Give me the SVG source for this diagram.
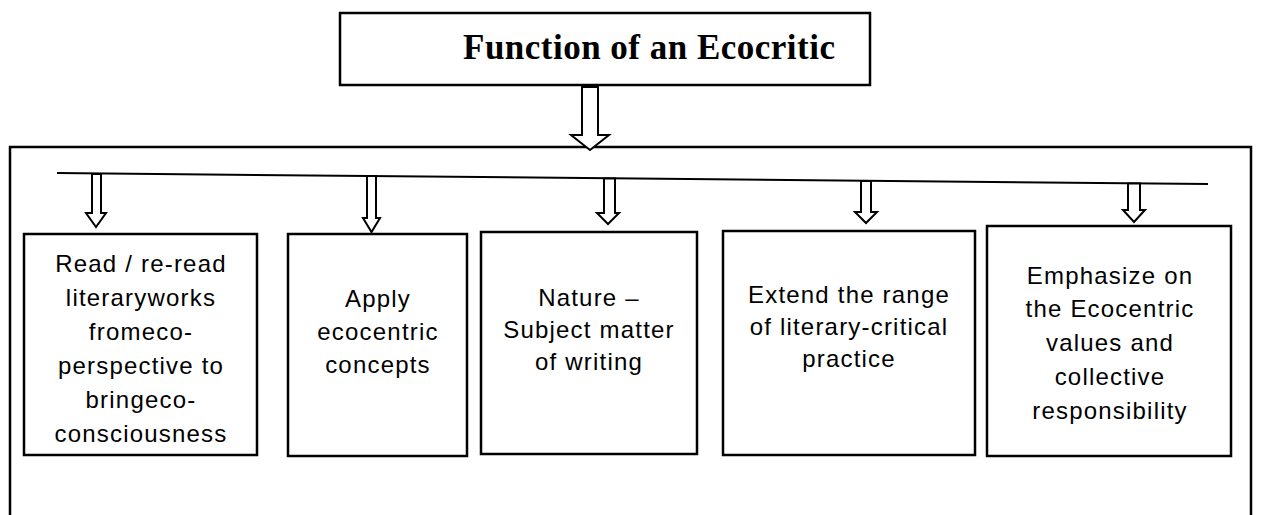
<svg xmlns="http://www.w3.org/2000/svg" width="1261" height="515" viewBox="0 0 1261 515">
<style>
.bx{fill:#fff;stroke:#000;stroke-width:2.5}
.ar{fill:#fff;stroke:#000;stroke-width:2;stroke-linejoin:miter}
.ln{fill:none;stroke:#000;stroke-width:2}
.t{font-family:"Liberation Sans",Arial,sans-serif;font-size:24px;letter-spacing:1.2px;text-anchor:middle;fill:#000}
.title{font-family:"Liberation Serif","Times New Roman",serif;font-size:35px;font-weight:bold;fill:#000}
</style>
<rect width="1261" height="515" fill="#fff"/>
<g id="frame">
<rect x="10" y="147" width="1241" height="380" fill="none" stroke="#000" stroke-width="2.5"/>
</g>
<g id="title">
<rect class="bx" x="340" y="13" width="530" height="72"/>
<text class="title" x="463" y="59" textLength="372" lengthAdjust="spacing">Function of an Ecocritic</text>
</g>
<g id="connectors">
<path class="ar" d="M582,87 H598 V135 H609 L590,150 L571,135 H582 Z"/>
<line class="ln" x1="57" y1="173" x2="1208" y2="184"/>
<path class="ar" d="M92,174 H101 V213 H106 L96,227 L86,213 H92 Z"/>
<path class="ar" d="M367,176 H376 V218 H380 L371.5,232 L363,218 H367 Z"/>
<path class="ar" d="M604,178.5 H615 V213 H619 L608,224 L597,213 H604 Z"/>
<path class="ar" d="M861,181 H871 V212 H877 L866,223 L855,212 H861 Z"/>
<path class="ar" d="M1128,183.5 H1140 V210 H1145 L1134,222 L1123,210 H1128 Z"/>
</g>
<g id="node1">
<rect class="bx" x="24" y="234" width="233" height="221"/>
<text class="t" x="141" y="272">Read / re-read</text>
<text class="t" x="141" y="306">literaryworks</text>
<text class="t" x="141" y="340">fromeco-</text>
<text class="t" x="141" y="374">perspective to</text>
<text class="t" x="141" y="408">bringeco-</text>
<text class="t" x="141" y="442">consciousness</text>
</g>
<g id="node2">
<rect class="bx" x="288" y="234" width="179" height="222"/>
<text class="t" x="378" y="307">Apply</text>
<text class="t" x="378" y="340">ecocentric</text>
<text class="t" x="378" y="373">concepts</text>
</g>
<g id="node3">
<rect class="bx" x="481" y="232" width="216" height="222"/>
<text class="t" x="589" y="306">Nature –</text>
<text class="t" x="589" y="338">Subject matter</text>
<text class="t" x="589" y="370">of writing</text>
</g>
<g id="node4">
<rect class="bx" x="723" y="231" width="252" height="224"/>
<text class="t" x="849" y="303">Extend the range</text>
<text class="t" x="849" y="335">of literary-critical</text>
<text class="t" x="849" y="367">practice</text>
</g>
<g id="node5">
<rect class="bx" x="987" y="226" width="244" height="230"/>
<text class="t" x="1110" y="284">Emphasize on</text>
<text class="t" x="1110" y="317">the Ecocentric</text>
<text class="t" x="1110" y="351">values and</text>
<text class="t" x="1110" y="385">collective</text>
<text class="t" x="1110" y="419">responsibility</text>
</g>
</svg>
